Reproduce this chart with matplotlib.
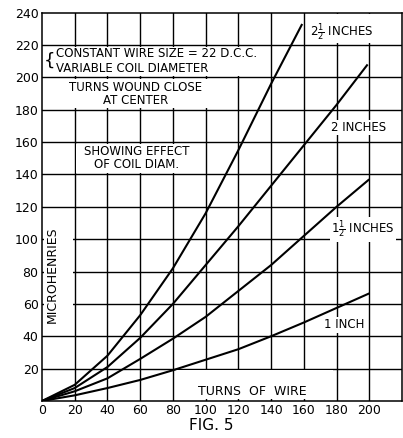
import matplotlib
matplotlib.use("Agg")
import matplotlib.pyplot as plt
from matplotlib.patches import Rectangle

plt.rcParams["font.family"] = ["DejaVu Sans"]
plt.rcParams["mathtext.fontset"] = "dejavusans"

# Inductance (microhenries) against number of turns, No. 22 D.C.C. wire
turns_1in = [0, 20, 40, 60, 80, 100, 120, 140, 160, 180, 200]
uh_1in = [0, 3.5, 8, 13, 19, 25.5, 32, 40, 48.5, 57.5, 66.5]

turns_1_5in = [0, 20, 40, 60, 80, 100, 120, 140, 160, 180, 200]
uh_1_5in = [0, 6, 14, 26, 38.5, 52, 68, 84, 102, 120, 137]

turns_2in = [0, 20, 40, 60, 80, 100, 120, 140, 160, 180, 199]
uh_2in = [0, 8, 21, 39, 60, 84, 108, 133, 158, 183, 208]

turns_2_5in = [0, 20, 40, 60, 80, 100, 120, 140, 159]
uh_2_5in = [0, 10, 28, 53, 82, 116, 155, 196, 233]

x_ticks = [0, 20, 40, 60, 80, 100, 120, 140, 160, 180, 200]
y_ticks = [20, 40, 60, 80, 100, 120, 140, 160, 180, 200, 220, 240]

fig = plt.figure(figsize=(4.03, 4.38), dpi=100)
ax = fig.add_axes([0.1042, 0.0845, 0.8933, 0.8866])
ax.set_xlim(0, 220)
ax.set_ylim(0, 240)

# ruled grid
for gx in x_ticks[1:]:
    ax.plot([gx, gx], [0, 240], color="black", lw=1.0, zorder=1)
for gy in y_ticks[:-1]:
    ax.plot([0, 220], [gy, gy], color="black", lw=1.0, zorder=1)

# blank panels behind the lettering
panels = [
    (1, 201, 137, 18),    # wire size note
    (1, 181, 117, 18),    # winding note
    (21, 141, 77, 18),    # coil diameter note
    (82, 1, 96, 18),      # turns of wire
    (162, 221, 57, 18),   # 2 1/2 inches
    (1, 44, 18, 70),      # microhenries
]
for px, py, pw, ph in panels:
    ax.add_patch(Rectangle((px, py), pw, ph, facecolor="white",
                           edgecolor="none", zorder=2))

for xs, ys in [(turns_1in, uh_1in), (turns_1_5in, uh_1_5in),
               (turns_2in, uh_2in), (turns_2_5in, uh_2_5in)]:
    ax.plot(xs, ys, color="black", lw=1.5, zorder=3,
            solid_capstyle="butt", solid_joinstyle="round")

fs = 8.5
ax.text(8.3, 210, "{", fontsize=13, va="center", ha="right", zorder=4)
ax.text(8.8, 214.5, "CONSTANT WIRE SIZE = 22 D.C.C.", fontsize=fs,
        va="center", ha="left", zorder=4)
ax.text(8.8, 205.5, "VARIABLE COIL DIAMETER", fontsize=fs,
        va="center", ha="left", zorder=4)
ax.text(57, 194, "TURNS WOUND CLOSE", fontsize=fs, va="center",
        ha="center", zorder=4)
ax.text(57, 185.5, "AT CENTER", fontsize=fs, va="center", ha="center",
        zorder=4)
ax.text(58, 154.5, "SHOWING EFFECT", fontsize=fs, va="center",
        ha="center", zorder=4)
ax.text(57.5, 146, "OF COIL DIAM.", fontsize=fs, va="center",
        ha="center", zorder=4)
ax.text(128.5, 6, "TURNS  OF  WIRE", fontsize=9, va="center",
        ha="center", zorder=4)
ax.text(6.5, 78, "MICROHENRIES", fontsize=9, rotation=90, va="center",
        ha="center", zorder=4)

box = dict(facecolor="white", edgecolor="none", pad=1.0)
ax.text(183, 228, r"2$\frac{1}{2}$ INCHES", fontsize=fs, va="center",
        ha="center", zorder=4)
ax.text(193.5, 169, "2 INCHES", fontsize=fs, va="center", ha="center",
        bbox=box, zorder=4)
ax.text(196, 106, r"1$\frac{1}{2}$ INCHES", fontsize=fs, va="center",
        ha="center", bbox=box, zorder=4)
ax.text(184.5, 47, "1 INCH", fontsize=fs, va="center", ha="center",
        bbox=box, zorder=4)

ax.set_xticks(x_ticks)
ax.set_xticklabels([str(v) for v in x_ticks])
ax.set_yticks(y_ticks)
ax.set_yticklabels([str(v) for v in y_ticks])
ax.tick_params(length=0, labelsize=9, pad=2.5)

for sp in ax.spines.values():
    sp.set_linewidth(1.1)
    sp.set_zorder(5)

fig.text(0.525, 0.012, "FIG. 5", fontsize=11, ha="center", va="bottom")

fig.savefig("out.png", dpi=100, facecolor="white")
